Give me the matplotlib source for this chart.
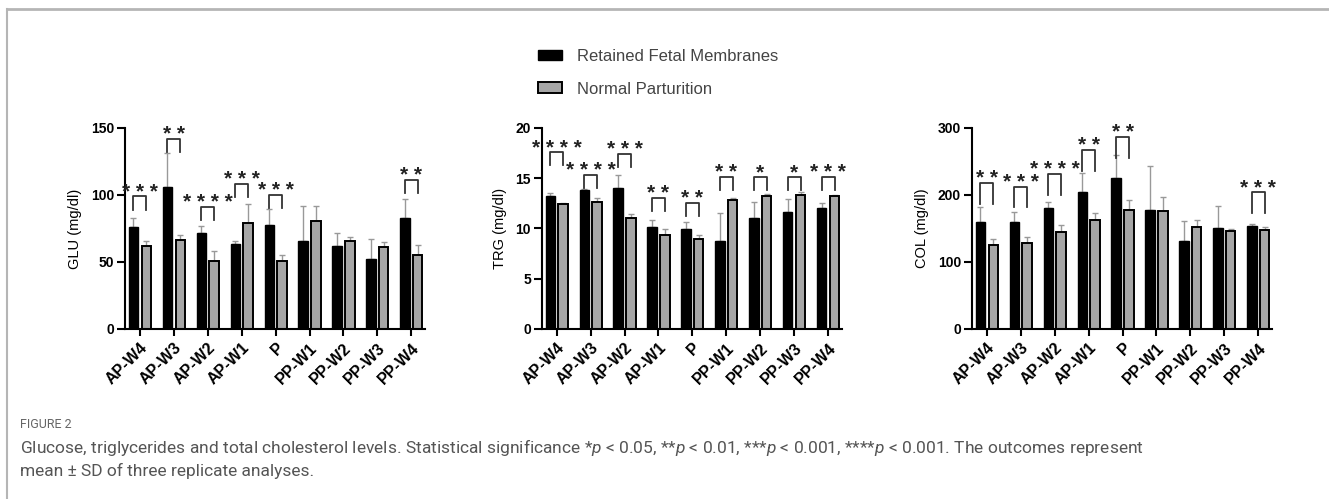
import matplotlib
matplotlib.use("Agg")
import matplotlib.pyplot as plt
from matplotlib.lines import Line2D
from matplotlib.patches import Patch
from matplotlib import font_manager
import numpy as np

# ─── Data ────────────────────────────────────────────────────────────────────
CATS = ["AP-W4", "AP-W3", "AP-W2", "AP-W1", "P", "PP-W1", "PP-W2", "PP-W3", "PP-W4"]

GLU_RFM    = [76.0, 106.0, 71.6, 63.3, 77.8, 65.7, 62.0, 52.0, 83.0]
GLU_RFM_SD = [7.0, 25.0, 5.0, 2.5, 12.0, 26.0, 10.0, 15.0, 14.0]
GLU_NP     = [62.3, 66.6, 50.4, 79.0, 50.4, 80.7, 65.7, 61.0, 55.0]
GLU_NP_SD  = [3.5, 3.7, 8.0, 14.5, 5.0, 11.3, 3.0, 4.0, 7.5]

TRG_RFM    = [13.27, 13.83, 14.03, 10.17, 9.93, 8.77, 11.0, 11.6, 12.03]
TRG_RFM_SD = [0.25, 0.10, 1.30, 0.67, 0.73, 2.77, 1.67, 1.33, 0.50]
TRG_NP     = [12.43, 12.6, 11.0, 9.33, 9.0, 12.83, 13.2, 13.33, 13.27]
TRG_NP_SD  = [0.08, 0.40, 0.43, 0.60, 0.37, 0.20, 0.23, 0.27, 0.07]

COL_RFM    = [160, 160, 180, 204, 226, 178, 132, 150, 154]
COL_RFM_SD = [22, 14, 10, 29, 34, 66, 29, 34, 3]
COL_NP     = [125, 128, 145, 163, 177, 176, 152, 146, 148]
COL_NP_SD  = [10, 9, 10, 10, 15, 21, 11, 3, 4]

# significance brackets: category index, stars, bracket top (data units)
GLU_SIG_IDX = [0, 1, 2, 3, 4, 8]
GLU_SIG_TXT = ["***", "**", "****", "***", "***", "**"]
GLU_SIG_TOP = [99, 142, 91, 108.5, 100, 111.5]

TRG_SIG_IDX = [0, 1, 2, 3, 4, 5, 6, 7, 8]
TRG_SIG_TXT = ["****", "****", "***", "**", "**", "**", "*", "*", "***"]
TRG_SIG_TOP = [17.6, 15.37, 17.43, 13.03, 12.53, 15.17, 15.17, 15.17, 15.17]

COL_SIG_IDX = [0, 1, 2, 3, 4, 8]
COL_SIG_TXT = ["**", "***", "****", "**", "**", "***"]
COL_SIG_TOP = [218, 212.6, 231.7, 267, 286.4, 204]

# ─── Fonts ──────────────────────────────────────────────────────────────────
names = {f.name for f in font_manager.fontManager.ttflist}
CAPFONT = "Liberation Sans Narrow" if "Liberation Sans Narrow" in names else "Roboto"
plt.rcParams["font.family"] = ["Liberation Sans", "DejaVu Sans"]
plt.rcParams["mathtext.fontset"] = "custom"
plt.rcParams["mathtext.rm"] = CAPFONT
plt.rcParams["mathtext.it"] = CAPFONT + ":italic"

W, H = 1329, 499
fig = plt.figure(figsize=(W / 100, H / 100), dpi=100)

BW = 0.27
OFF = 0.19


def panel(left, rfm, rfm_sd, npv, np_sd, ymax, step, ylabel, sig_idx, sig_txt, sig_top, leg):
    ax = fig.add_axes([left, 0.3407, 0.2257, 0.4028])
    x = np.arange(len(CATS))
    zeros = np.zeros(len(CATS))
    ax.errorbar(x - OFF, rfm, yerr=[zeros, rfm_sd], fmt="none", ecolor="#999999",
                elinewidth=1, capsize=2, capthick=1, zorder=1)
    ax.errorbar(x + OFF, npv, yerr=[zeros, np_sd], fmt="none", ecolor="#999999",
                elinewidth=1, capsize=2, capthick=1, zorder=1)
    ax.bar(x - OFF, rfm, width=BW, color="black", edgecolor="black", lw=1, zorder=2)
    ax.bar(x + OFF, npv, width=BW, color="#a6a6a6", edgecolor="black", lw=1.4, zorder=2)

    for i, txt, top in zip(sig_idx, sig_txt, sig_top):
        x0, x1 = i - OFF, i + OFF
        ax.plot([x0, x0, x1, x1], [top - leg, top, top, top - leg], color="#333333",
                lw=1.3, clip_on=False, zorder=3)
        ax.annotate(" ".join(txt), xy=((x0 + x1) / 2, top), xytext=(0, -1),
                    textcoords="offset points", ha="center", va="baseline",
                    fontsize=15, fontweight="bold", color="#222222", annotation_clip=False)

    ax.set_xlim(-0.43, 8.4)
    ax.set_ylim(0, ymax)
    ax.set_yticks(np.arange(0, ymax + 0.1, step))
    ax.set_xticks(x)
    ax.set_xticklabels(CATS, rotation=45, ha="right", va="top", rotation_mode="anchor",
                       fontsize=11.5, fontweight="bold")
    for t in ax.get_yticklabels():
        t.set_fontsize(10)
        t.set_fontweight("bold")
    ax.set_ylabel(ylabel, fontsize=10.5, labelpad=6)
    for s in ["top", "right"]:
        ax.spines[s].set_visible(False)
    for s in ["left", "bottom"]:
        ax.spines[s].set_linewidth(1.5)
    ax.tick_params(axis="y", length=6, width=1.5, pad=2)
    ax.tick_params(axis="x", length=5, width=1.5, pad=3)
    return ax


panel(0.0941, GLU_RFM, GLU_RFM_SD, GLU_NP, GLU_NP_SD, 150, 50, "GLU (mg/dl)",
      GLU_SIG_IDX, GLU_SIG_TXT, GLU_SIG_TOP, 10)
panel(0.4078, TRG_RFM, TRG_RFM_SD, TRG_NP, TRG_NP_SD, 20, 5, "TRG (mg/dl)",
      TRG_SIG_IDX, TRG_SIG_TXT, TRG_SIG_TOP, 1.3)
panel(0.7314, COL_RFM, COL_RFM_SD, COL_NP, COL_NP_SD, 300, 100, "COL (mg/dl)",
      COL_SIG_IDX, COL_SIG_TXT, COL_SIG_TOP, 31)

# legend
handles = [Patch(facecolor="black", edgecolor="black"),
           Patch(facecolor="#a6a6a6", edgecolor="black", lw=1.4)]
fig.legend(handles, ["Retained Fetal Membranes", "Normal Parturition"],
           loc="upper left", bbox_to_anchor=(538 / W, 1 - 49 / H), frameon=False,
           fontsize=12, handlelength=1.45, handleheight=0.6, handletextpad=0.9,
           labelspacing=1.05, borderpad=0, borderaxespad=0, labelcolor="#444444")

# frame and caption
fig.add_artist(Line2D([7 / W, 1], [1 - 9 / H, 1 - 9 / H], color="#b5b5b5", lw=2,
                      transform=fig.transFigure))
fig.add_artist(Line2D([7 / W, 7 / W], [0, 1 - 9 / H], color="#b5b5b5", lw=1.5,
                      transform=fig.transFigure))
fig.text(20 / W, 1 - 425 / H, "FIGURE 2", fontsize=9, color="#666666", va="center",
         family=CAPFONT)
fig.text(20 / W, 1 - 448 / H,
         "Glucose, triglycerides and total cholesterol levels. Statistical significance "
         "*$p$ < 0.05, **$p$ < 0.01, ***$p$ < 0.001, ****$p$ < 0.001. The outcomes represent",
         fontsize=12.5, color="#555555", va="center", family=CAPFONT)
fig.text(20 / W, 1 - 471 / H, "mean ± SD of three replicate analyses.",
         fontsize=12.5, color="#555555", va="center", family=CAPFONT)

fig.savefig("out.png", dpi=100)
